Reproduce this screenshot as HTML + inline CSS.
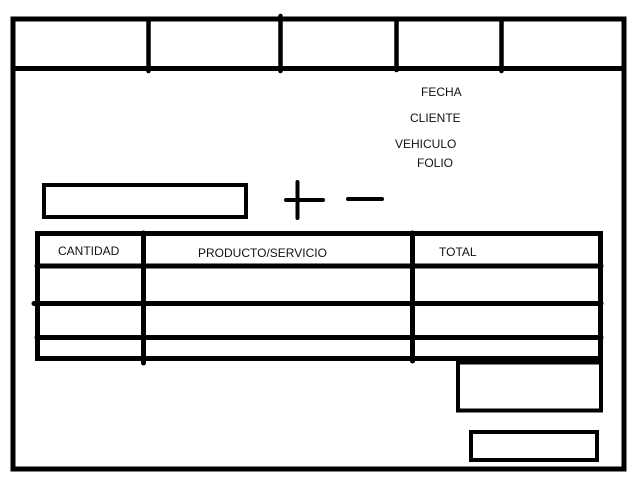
<!DOCTYPE html>
<html><head><style>
html,body{margin:0;padding:0;background:#fff;}
svg{display:block;}
text{font-family:"Liberation Sans",sans-serif;font-size:12px;fill:#111;}
</style></head><body>
<svg width="644" height="490" viewBox="0 0 644 490" xmlns="http://www.w3.org/2000/svg">
<g fill="none" stroke="#000" stroke-linecap="round">
<rect x="13" y="19" width="611" height="450" stroke-width="5"/>
<line x1="13" y1="68.5" x2="624" y2="68.5" stroke-width="5"/>
<line x1="148.5" y1="19" x2="148.5" y2="71" stroke-width="4.5"/>
<line x1="280.5" y1="16" x2="280.5" y2="71" stroke-width="4.5"/>
<line x1="396.5" y1="19" x2="396.5" y2="70" stroke-width="4.5"/>
<line x1="501.5" y1="19" x2="501.5" y2="71" stroke-width="4.5"/>
<rect x="44" y="185" width="202" height="32" stroke-width="4"/>
<line x1="286" y1="200" x2="323" y2="200" stroke-width="4"/>
<line x1="297.5" y1="182" x2="297.5" y2="218" stroke-width="4"/>
<line x1="348" y1="199" x2="382" y2="199" stroke-width="4"/>
<rect x="37.5" y="233.5" width="563" height="125" stroke-width="5"/>
<line x1="37" y1="266" x2="601" y2="266" stroke-width="5"/>
<line x1="34" y1="303.5" x2="601" y2="303.5" stroke-width="5"/>
<line x1="37" y1="337.5" x2="601" y2="337.5" stroke-width="5"/>
<line x1="143.5" y1="233" x2="143.5" y2="363" stroke-width="5"/>
<line x1="412.5" y1="233" x2="412.5" y2="361" stroke-width="5"/>
<rect x="458" y="362.5" width="143" height="48" stroke-width="4"/>
<rect x="471" y="432" width="126" height="28" stroke-width="4"/>
</g>
<text x="421" y="96">FECHA</text>
<text x="410" y="122">CLIENTE</text>
<text x="395" y="148">VEHICULO</text>
<text x="417" y="167">FOLIO</text>
<text x="58" y="255">CANTIDAD</text>
<text x="198" y="257">PRODUCTO/SERVICIO</text>
<text x="439" y="256">TOTAL</text>
</svg>
</body></html>
